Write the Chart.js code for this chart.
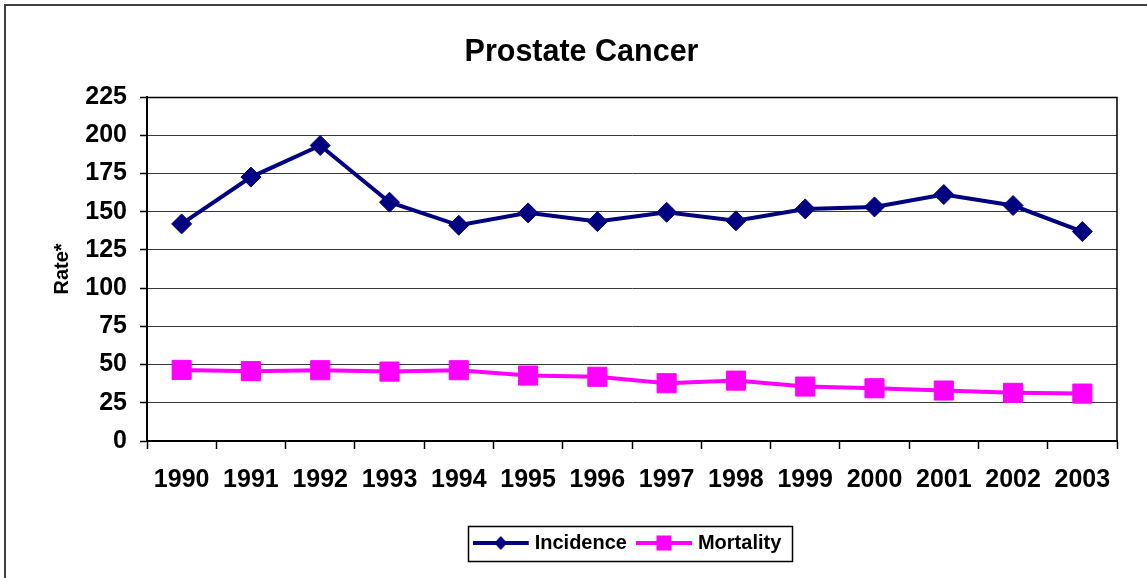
<!DOCTYPE html>
<html>
<head>
<meta charset="utf-8">
<script src="https://cdn.jsdelivr.net/npm/chart.js@4/dist/chart.umd.min.js"></script>
<style>
  html, body { margin: 0; padding: 0; background: #fff; }
  #wrap { width: 1147px; height: 578px; position: relative; }
</style>
</head>
<body>
<div id="wrap"><canvas id="c" width="1147" height="578"></canvas></div>
<script>
const years = ['1990','1991','1992','1993','1994','1995','1996','1997','1998','1999','2000','2001','2002','2003'];
const incidence = [142, 172.6, 193.3, 156.2, 141.1, 149.2, 143.5, 149.6, 144, 151.8, 153.1, 161.2, 154, 137];
const mortality = [46.5, 45.7, 46.3, 45.4, 46.3, 42.8, 42, 37.8, 39.5, 35.6, 34.5, 33, 31.5, 31];
const seriesNames = ['Incidence', 'Mortality'];
const yTicks = [0, 25, 50, 75, 100, 125, 150, 175, 200, 225];

const FONT = '"Liberation Sans", Arial, Helvetica, sans-serif';
const NAVY = '#000080';
const MAGENTA = '#FF00FF';

function legendIcon(color, shape) {
  const cv = document.createElement('canvas');
  cv.width = 62; cv.height = 20;
  const g = cv.getContext('2d');
  g.strokeStyle = color; g.lineWidth = 4;
  g.beginPath(); g.moveTo(0, 10); g.lineTo(56, 10); g.stroke();
  g.fillStyle = color;
  g.beginPath();
  if (shape === 'diamond') {
    g.moveTo(28 - 6.5, 10); g.lineTo(28, 3); g.lineTo(28 + 6.5, 10); g.lineTo(28, 17);
  } else {
    g.rect(28 - 7.5, 2.5, 15, 15);
  }
  g.closePath(); g.fill();
  return cv;
}
const icons = [legendIcon(NAVY, 'diamond'), legendIcon(MAGENTA, 'square')];

const framePlugin = {
  id: 'frames',
  afterDraw(chart) {
    const ctx = chart.ctx;
    const a = chart.chartArea;
    ctx.save();
    ctx.strokeStyle = '#404040';
    ctx.lineWidth = 2;
    ctx.beginPath();
    ctx.moveTo(5, 578); ctx.lineTo(5, 5); ctx.lineTo(1147, 5);
    ctx.stroke();
    ctx.strokeStyle = '#000';
    ctx.lineWidth = 1.5;
    ctx.beginPath();
    ctx.moveTo(a.left, a.top + 0.5); ctx.lineTo(a.right, a.top + 0.5); ctx.lineTo(a.right, a.bottom);
    ctx.stroke();
    const lg = chart.legend;
    if (lg && lg.legendHitBoxes && lg.legendHitBoxes.length) {
      const hb = lg.legendHitBoxes;
      const left = hb[0].left - 15;
      const right = hb[hb.length - 1].left + hb[hb.length - 1].width + 10;
      const cy = lg.top + 19 + 10;
      ctx.lineWidth = 1.5;
      ctx.strokeStyle = '#000';
      ctx.strokeRect(Math.round(left) + 0.5, Math.round(cy - 17) + 0.5, Math.round(right - left), 35);
    }
    ctx.restore();
  }
};

new Chart(document.getElementById('c'), {
  type: 'line',
  data: {
    labels: years,
    datasets: [
      {
        label: seriesNames[0],
        data: incidence,
        borderColor: NAVY,
        backgroundColor: NAVY,
        borderWidth: 4,
        pointStyle: 'rectRot',
        pointRadius: 10,
        pointBorderWidth: 1,
        pointBackgroundColor: NAVY,
        pointBorderColor: NAVY,
        tension: 0
      },
      {
        label: seriesNames[1],
        data: mortality,
        borderColor: MAGENTA,
        backgroundColor: MAGENTA,
        borderWidth: 4,
        pointStyle: 'rect',
        pointRadius: 13.5,
        pointBorderWidth: 1,
        pointBackgroundColor: MAGENTA,
        pointBorderColor: MAGENTA,
        tension: 0
      }
    ]
  },
  options: {
    responsive: false,
    animation: false,
    events: [],
    layout: { padding: { left: 46, right: 30, top: 0, bottom: 15 } },
    plugins: {
      tooltip: { enabled: false },
      title: {
        display: true,
        text: 'Prostate Cancer',
        color: '#000',
        font: { family: FONT, size: 30.5, weight: 'bold' },
        padding: { top: 34.7, bottom: 25.7 }
      },
      legend: {
        display: true,
        position: 'bottom',
        fullSize: false,
        labels: {
          color: '#000',
          font: { family: FONT, size: 20, weight: 'bold' },
          usePointStyle: true,
          pointStyleWidth: 42,
          padding: 19,
          generateLabels(chart) {
            const items = Chart.defaults.plugins.legend.labels.generateLabels(chart);
            items.forEach((it, i) => { it.pointStyle = icons[i]; });
            return items;
          }
        }
      }
    },
    scales: {
      x: {
        type: 'category',
        offset: true,
        grid: {
          offset: true,
          drawOnChartArea: false,
          drawTicks: true,
          tickLength: 8,
          tickColor: '#000',
          tickWidth: 1.5
        },
        border: { display: true, color: '#000', width: 2 },
        ticks: {
          color: '#000',
          font: { family: FONT, size: 25, weight: 'bold' },
          padding: 16,
          autoSkip: false,
          maxRotation: 0,
          minRotation: 0
        },
        afterFit(scale) { scale.height = 73; }
      },
      y: {
        min: 0,
        max: 225,
        grid: {
          color: '#3a3a3a',
          lineWidth: 1,
          drawTicks: true,
          tickLength: 7,
          tickColor: '#000',
          tickWidth: 1.5
        },
        border: { display: true, color: '#000', width: 2 },
        afterBuildTicks(scale) { scale.ticks = yTicks.map(v => ({ value: v })); },
        ticks: {
          color: '#000',
          font: { family: FONT, size: 25, weight: 'bold' },
          padding: 13
        },
        title: {
          display: true,
          text: 'Rate*',
          color: '#000',
          font: { family: FONT, size: 20, weight: 'bold' },
          padding: { top: 4.5, bottom: 0 }
        },
        afterFit(scale) { scale.width = 101; }
      }
    }
  },
  plugins: [framePlugin]
});
</script>
</body>
</html>
